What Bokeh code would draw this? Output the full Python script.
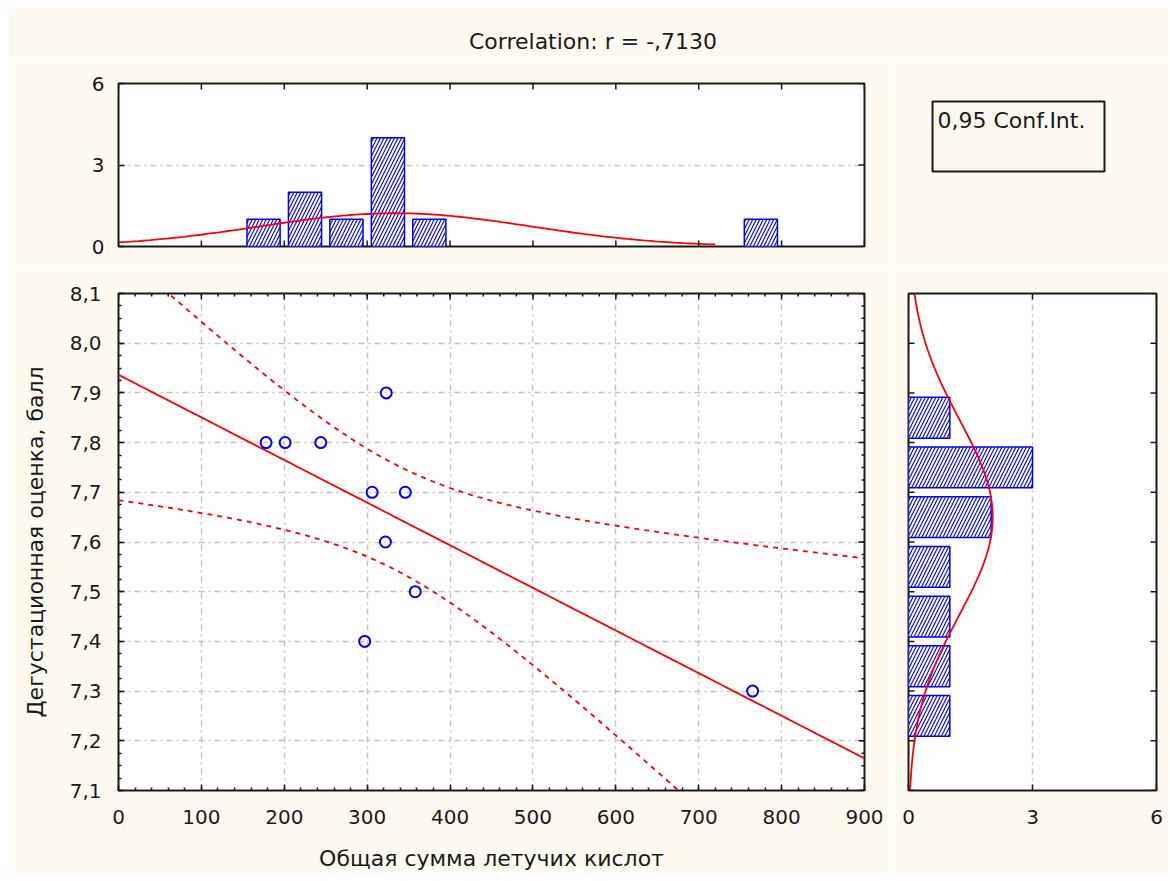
import numpy as np
from bokeh.plotting import figure
from bokeh.models import Range1d, FixedTicker, Label
from bokeh.layouts import row, column
from bokeh.embed import file_html
from bokeh.resources import INLINE

# ---------------- data ----------------
acid_total = [178, 201, 244, 323, 306, 346, 322, 358, 297, 765]
tasting_score = [7.8, 7.8, 7.8, 7.9, 7.7, 7.7, 7.6, 7.5, 7.4, 7.3]

x_bin_left = [150, 200, 250, 300, 350, 750]
x_bin_count = [1, 2, 1, 4, 1, 1]
x_bin_width = 50

y_bin_low = [7.2, 7.3, 7.4, 7.5, 7.6, 7.7, 7.8]
y_bin_count = [1, 1, 1, 1, 2, 3, 1]
y_bin_width = 0.1

x_ticks = [0, 100, 200, 300, 400, 500, 600, 700, 800, 900]
x_tick_labels = ["0", "100", "200", "300", "400", "500", "600", "700", "800", "900"]
y_ticks = [7.1, 7.2, 7.3, 7.4, 7.5, 7.6, 7.7, 7.8, 7.9, 8.0, 8.1]
y_tick_labels = ["7,1", "7,2", "7,3", "7,4", "7,5", "7,6", "7,7", "7,8", "7,9", "8,0", "8,1"]
count_ticks = [0, 3, 6]
count_tick_labels = ["0", "3", "6"]

title_text = "Correlation: r = -,7130"
x_label = "Общая сумма летучих кислот"
y_label = "Дегустационная оценка, балл"
legend_text = "0,95 Conf.Int."
t_975_df8 = 2.306

# ---------------- derived statistics ----------------
xa = np.array(acid_total, dtype=float)
ya = np.array(tasting_score, dtype=float)
n = len(xa)
mx, my = xa.mean(), ya.mean()
sxx = ((xa - mx) ** 2).sum()
sxy = ((xa - mx) * (ya - my)).sum()
slope = sxy / sxx
icpt = my - slope * mx
resid = ya - (icpt + slope * xa)
s_res = np.sqrt((resid ** 2).sum() / (n - 2))

fit_x = np.linspace(0, 900, 181)
fit_y = icpt + slope * fit_x
half = t_975_df8 * s_res * np.sqrt(1.0 / n + (fit_x - mx) ** 2 / sxx)


def normal_counts(grid, data, width):
    m, s = np.mean(data), np.std(data, ddof=1)
    return len(data) * width * np.exp(-0.5 * ((grid - m) / s) ** 2) / (s * np.sqrt(2 * np.pi))


top_curve_x = np.linspace(0, 720, 150)
top_curve_y = normal_counts(top_curve_x, xa, x_bin_width)
right_curve_y = np.linspace(7.1, 8.1, 150)
right_curve_x = normal_counts(right_curve_y, ya, y_bin_width)

# ---------------- styling helpers ----------------
CREAM = "#fffaf0"
FONT = "DejaVu Sans"
TICK_FS = "20px"
LABEL_FS = "22px"
BLUE = "#0000ff"
RED = "#ff0000"
GRID = "#c4c4c4"
INK = "#1a1a1a"


def make_fig(w, h, xr, yr, l, r, t, b):
    p = figure(width=w, height=h, x_range=xr, y_range=yr, output_backend="svg",
               toolbar_location=None, tools="",
               min_border_left=l, min_border_right=r, min_border_top=t, min_border_bottom=b)
    p.background_fill_color = "white"
    p.border_fill_color = CREAM
    p.outline_line_color = INK
    p.outline_line_width = 2
    p.xgrid.visible = False
    p.ygrid.visible = False
    return p


def style_axis(ax, ticks, minor=(), labels=None, standoff=10):
    ax.ticker = FixedTicker(ticks=list(ticks), minor_ticks=list(minor))
    ax.axis_line_color = None
    ax.major_tick_in = 6
    ax.major_tick_out = 0
    ax.minor_tick_in = 3
    ax.minor_tick_out = 0
    ax.major_tick_line_color = INK
    ax.major_tick_line_width = 1.5
    ax.minor_tick_line_color = INK
    ax.minor_tick_line_width = 1.5
    ax.major_label_text_font = FONT
    ax.major_label_text_color = INK
    ax.major_label_text_font_size = TICK_FS
    ax.major_label_standoff = standoff
    if labels is not None:
        ax.major_label_overrides = dict(zip(ticks, labels))


def edge_ticks(p, pos, edge, vertical_edge, size):
    # inward tick marks on an edge without labels: a dash centred on the frame edge
    if vertical_edge:
        p.scatter(x=[edge] * len(pos), y=list(pos), marker="dash", size=size,
                  line_color=INK, line_width=1.5)
    else:
        p.scatter(x=list(pos), y=[edge] * len(pos), marker="dash", size=size, angle=np.pi / 2,
                  line_color=INK, line_width=1.5)


def grid_on(g, ticks):
    g.visible = True
    g.ticker = FixedTicker(ticks=list(ticks))
    g.grid_line_color = GRID
    g.grid_line_width = 1.5
    g.grid_line_dash = "6 4 2 4"


def blank_panel(w, h, xr, yr, l=0, r=0, t=0, b=0):
    p = figure(width=w, height=h, x_range=xr, y_range=yr, output_backend="svg",
               toolbar_location=None, tools="",
               min_border_left=l, min_border_right=r, min_border_top=t, min_border_bottom=b)
    p.axis.visible = False
    p.grid.visible = False
    p.background_fill_color = CREAM
    p.border_fill_color = CREAM
    p.outline_line_color = None
    return p


x_minor = np.arange(0, 901, 20).tolist()
y_minor = np.round(np.arange(7.1, 8.1001, 0.025), 4).tolist()

LEFT_W = 880
RIGHT_W = 280
RIGHT_BORDER = RIGHT_W - 20 - 248
TITLE_H = 50

# ---------------- title strip ----------------
head = blank_panel(LEFT_W + RIGHT_W, TITLE_H, Range1d(0, LEFT_W + RIGHT_W), Range1d(0, TITLE_H))
head.add_layout(Label(x=584.5, y=17, text=title_text, text_font=FONT, text_font_size=LABEL_FS,
                      text_color=INK, text_align="center", text_baseline="middle"))

# ---------------- main scatter plot ----------------
main = make_fig(LEFT_W, 603, Range1d(0, 900), Range1d(7.1, 8.1), 110, 24, 23, 83)
style_axis(main.xaxis[0], x_ticks, x_minor, x_tick_labels, standoff=19)
style_axis(main.yaxis[0], y_ticks, y_minor, y_tick_labels, standoff=17)
for ax in (main.xaxis[0], main.yaxis[0]):
    ax.axis_label_text_font = FONT
    ax.axis_label_text_font_size = LABEL_FS
    ax.axis_label_text_font_style = "normal"
    ax.axis_label_text_color = INK
main.xaxis[0].axis_label = x_label
main.xaxis[0].axis_label_standoff = 19
main.yaxis[0].axis_label = y_label
main.yaxis[0].axis_label_standoff = 19
grid_on(main.xgrid[0], x_ticks[1:-1])
grid_on(main.ygrid[0], y_ticks[1:-1])

main.line(fit_x, fit_y - half, line_color=RED, line_width=1.8, line_dash="5 5")
main.line(fit_x, fit_y + half, line_color=RED, line_width=1.8, line_dash="5 5")
main.line(fit_x, fit_y, line_color=RED, line_width=1.8)
main.scatter(acid_total, tasting_score, marker="circle", size=11, fill_color=None,
             line_color=BLUE, line_width=2)
edge_ticks(main, y_ticks, 900, True, 12)
edge_ticks(main, y_minor, 900, True, 6)
edge_ticks(main, x_ticks, 8.1, False, 12)
edge_ticks(main, x_minor, 8.1, False, 6)

# ---------------- top histogram ----------------
top = make_fig(LEFT_W, 262 - TITLE_H, main.x_range, Range1d(0, 6), 110, 24, 75 - TITLE_H, 24)
top.xaxis.visible = False
style_axis(top.yaxis[0], count_ticks, labels=count_tick_labels, standoff=14)
grid_on(top.ygrid[0], [3])

x_centers = [v + x_bin_width / 2 for v in x_bin_left]
top.vbar(x=x_centers, width=x_bin_width * 0.8, top=x_bin_count, bottom=0,
         fill_color="white", line_color=BLUE, line_width=1.5,
         hatch_pattern="/", hatch_color=BLUE, hatch_scale=7, hatch_weight=1.1)
top.line(top_curve_x, top_curve_y, line_color=RED, line_width=1.8)
edge_ticks(top, x_ticks, 6, False, 12)
edge_ticks(top, x_ticks, 0, False, 12)
edge_ticks(top, count_ticks, 900, True, 12)

# ---------------- right histogram ----------------
right = make_fig(RIGHT_W, 603, Range1d(0, 6), main.y_range, 20, RIGHT_BORDER, 23, 83)
style_axis(right.xaxis[0], count_ticks, labels=count_tick_labels, standoff=19)
right.yaxis.visible = False
grid_on(right.xgrid[0], [3])

y_centers = [v + y_bin_width / 2 for v in y_bin_low]
right.hbar(y=y_centers, height=y_bin_width * 0.82, left=0, right=y_bin_count,
           fill_color="white", line_color=BLUE, line_width=1.5,
           hatch_pattern="/", hatch_color=BLUE, hatch_scale=7, hatch_weight=1.1)
right.line(right_curve_x, right_curve_y, line_color=RED, line_width=1.8)
edge_ticks(right, y_ticks, 0, True, 12)
edge_ticks(right, y_ticks, 6, True, 12)
edge_ticks(right, count_ticks, 8.1, False, 12)

# ---------------- legend box (pixel-unit panel above the right histogram) ----------------
leg = blank_panel(RIGHT_W, 262 - TITLE_H, Range1d(0, 248), Range1d(0, 163),
                  l=20, r=RIGHT_BORDER, t=75 - TITLE_H, b=24)
leg.quad(left=[24], right=[196], bottom=[75], top=[145], fill_color=None,
         line_color=INK, line_width=2)
leg.add_layout(Label(x=29, y=139, text=legend_text,
                     text_font=FONT, text_font_size="22px", text_color=INK,
                     text_align="left", text_baseline="top"))

layout = column(head, row(column(top, main), column(leg, right)), margin=(8, 0, 8, 8))
open("out.html", "w").write(file_html(layout, INLINE))
